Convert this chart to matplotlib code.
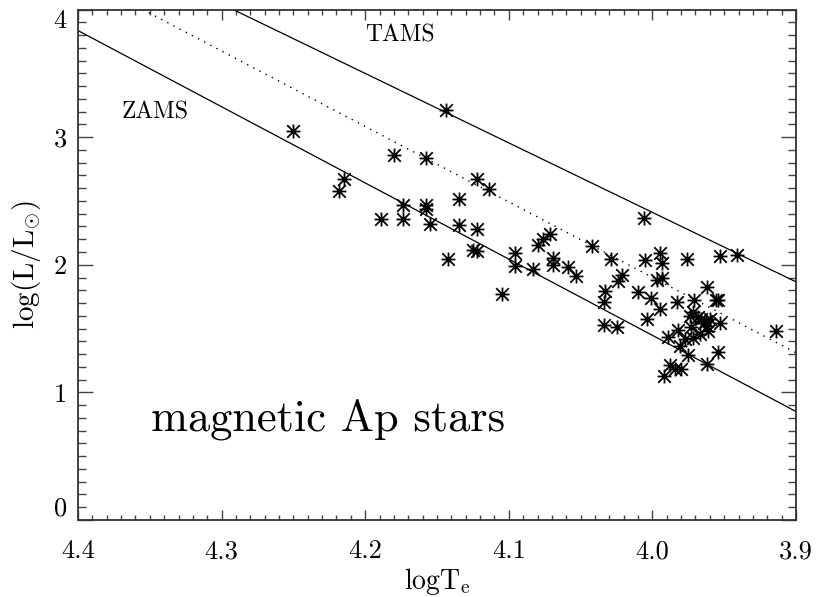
import numpy as np
import matplotlib
matplotlib.use('Agg')
import matplotlib.pyplot as plt
from matplotlib.path import Path
from matplotlib.ticker import MultipleLocator

plt.rcParams['font.family'] = ['cmr10', 'DejaVu Serif']
plt.rcParams['mathtext.fontset'] = 'cm'
plt.rcParams['axes.formatter.use_mathtext'] = True

# Ap stars
log_teff = [4.250, 4.144, 4.180, 4.158, 4.215, 4.218, 4.122, 4.114, 4.135, 4.174,
            4.158, 4.158, 4.189, 4.174, 4.155, 4.135, 4.122, 4.125, 4.122, 4.142,
            4.105, 4.096, 4.096, 4.083, 4.071, 4.076, 4.080, 4.069, 4.069, 4.059,
            4.053, 4.042, 4.029, 4.006, 4.005, 3.995, 3.993, 3.976, 3.953, 3.941,
            4.021, 4.024, 3.997, 3.993, 3.962, 4.033, 4.034, 4.010, 4.001, 3.983,
            3.971, 3.956, 3.954, 3.995, 4.004, 4.034, 4.025, 3.972, 3.974, 3.966,
            3.963, 3.960, 3.953, 3.973, 3.962, 3.982, 3.961, 3.967, 3.989, 3.977,
            3.972, 3.981, 3.975, 3.954, 3.962, 3.988, 3.984, 3.980, 3.992, 3.914,
            3.964, 3.968]
log_lum = [3.045, 3.213, 2.861, 2.840, 2.672, 2.577, 2.672, 2.591, 2.512, 2.467,
           2.467, 2.440, 2.362, 2.362, 2.323, 2.315, 2.283, 2.113, 2.110, 2.042,
           1.772, 2.094, 1.990, 1.963, 2.244, 2.205, 2.152, 2.053, 1.995, 1.982,
           1.913, 2.147, 2.047, 2.370, 2.034, 2.094, 2.013, 2.047, 2.068, 2.073,
           1.921, 1.874, 1.877, 1.895, 1.829, 1.798, 1.706, 1.790, 1.743, 1.706,
           1.724, 1.724, 1.727, 1.654, 1.575, 1.528, 1.509, 1.633, 1.596, 1.575,
           1.562, 1.575, 1.543, 1.509, 1.517, 1.491, 1.483, 1.457, 1.436, 1.417,
           1.423, 1.365, 1.291, 1.318, 1.220, 1.213, 1.181, 1.186, 1.128, 1.483,
           1.540, 1.590]

# ZAMS, TAMS and the dotted middle line (end points)
zams_t = [4.40, 3.90]
zams_l = [3.835, 0.85]
tams_t = [4.292, 3.90]
tams_l = [4.00, 1.866]
mid_t = [4.355, 3.90]
mid_l = [4.00, 1.31]

xticks = [4.4, 4.3, 4.2, 4.1, 4.0, 3.9]
xlabels = ['4.4', '4.3', '4.2', '4.1', '4.0', '3.9']
yticks = [0, 1, 2, 3, 4]
ylabels = ['0', '1', '2', '3', '4']

# IDL style asterisk
star = Path([(0, -1), (0, 1), (-0.9, -0.9), (0.9, 0.9), (-0.9, 0.9), (0.9, -0.9),
             (-1, 0), (1, 0)],
            [Path.MOVETO, Path.LINETO] * 4)

fig = plt.figure(figsize=(8.17, 5.97), dpi=100)
ax = fig.add_axes([78 / 817, 1 - 520 / 597, 718 / 817, 510.5 / 597])

ax.plot(zams_t, zams_l, color='black', lw=0.9)
ax.plot(tams_t, tams_l, color='black', lw=0.9)
ax.plot(mid_t, mid_l, color='black', lw=1.0, ls=(0, (1, 4)))
ax.plot(log_teff, log_lum, ls='none', marker=star, ms=10, mew=1.3,
        mec='black', mfc='none')

ax.text(4.176, 3.795, 'TAMS', fontsize=17, ha='center', va='center')
ax.text(4.346, 3.19, 'ZAMS', fontsize=17, ha='center', va='center')
ax.text(4.349, 0.787, 'magnetic Ap stars', fontsize=32, ha='left', va='center')

ax.set_xlim(4.4, 3.9)
ax.set_ylim(0, 4.0)
ax.set_xticks(xticks)
ax.set_xticklabels(xlabels)
ax.set_yticks(yticks)
ax.set_yticklabels(ylabels)
ax.xaxis.set_minor_locator(MultipleLocator(0.01))
ax.yaxis.set_minor_locator(MultipleLocator(0.1))

ax.tick_params(axis='both', which='both', direction='in', top=True, right=True,
               width=1, color='#444444', labelsize=19)
ax.tick_params(axis='x', which='major', length=7, pad=14)
ax.tick_params(axis='x', which='minor', length=3.6)
ax.tick_params(axis='y', which='major', length=11, pad=8)
ax.tick_params(axis='y', which='minor', length=5.5)
ylab = ax.get_yticklabels()
ylab[0].set_va('bottom')
ylab[-1].set_va('top')

for s in ax.spines.values():
    s.set_linewidth(1.3)
    s.set_color('#333333')

ax.set_xlabel(r'logT$_{\rm e}$', fontsize=20, labelpad=2)
ax.set_ylabel(r'log(L/L$_{\odot}$)', fontsize=21, labelpad=8)

fig.savefig('out.png', dpi=100)
